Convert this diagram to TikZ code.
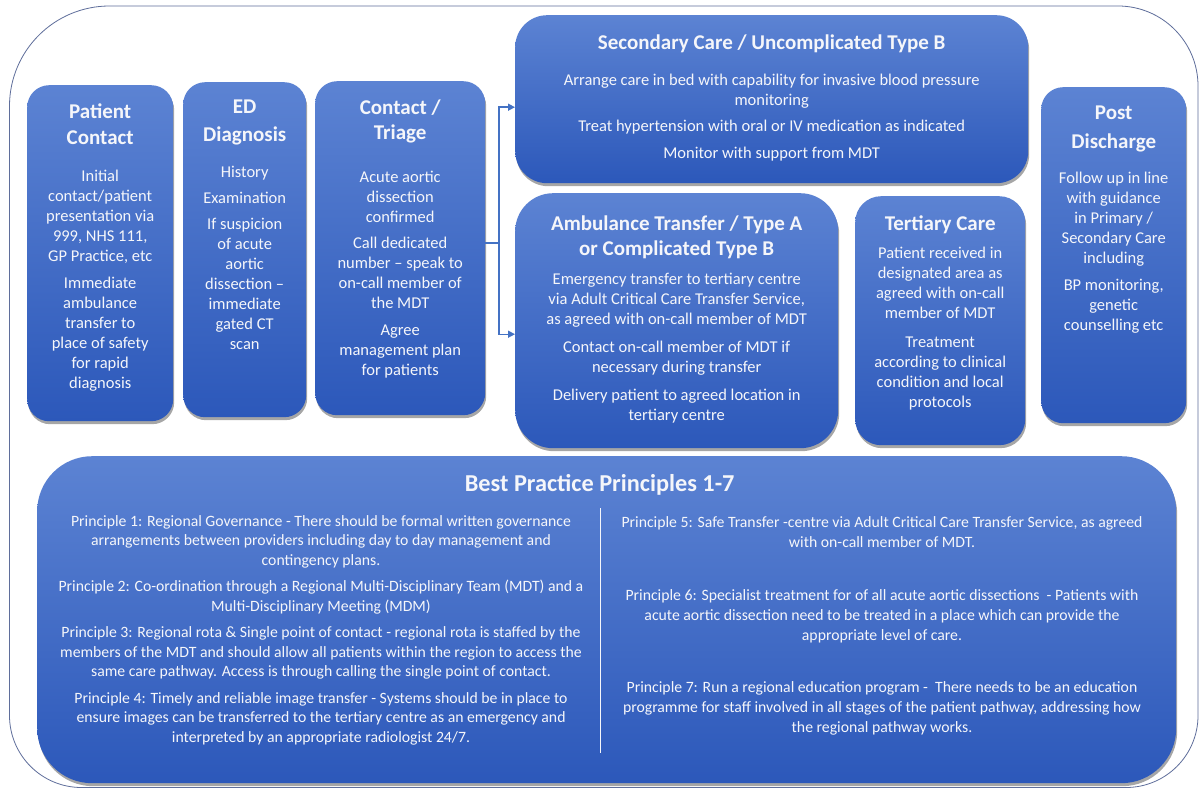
\documentclass[tikz,border=0pt]{standalone}
\usepackage{fontspec}
\setmainfont{Carlito}
\usetikzlibrary{shadows,arrows.meta}
\definecolor{boxtop}{RGB}{92,131,211}
\definecolor{boxbot}{RGB}{44,88,186}
\definecolor{framec}{RGB}{95,110,155}
\definecolor{connc}{RGB}{68,114,196}
\definecolor{txtc}{RGB}{245,246,250}
% width, height, title skip, first rule, title, extra gap, body
\newcommand{\flowtext}[7]{\parbox[c][#2pt][t]{#1pt}{\centering\fontsize{21}{#3}\bfseries\rule{0pt}{#4pt}#5\par\normalfont\fontsize{16.5}{20}\selectfont\vspace{#6pt}#7\par}}
\newcommand{\pg}[1][7]{\par\vspace{#1pt}}
\tikzset{
  flowbox/.style={rounded corners=#1, top color=boxtop, bottom color=boxbot, draw=none,
    inner sep=0pt, anchor=north west, text=txtc,
    drop shadow={shadow xshift=1pt, shadow yshift=-3pt, opacity=.35, fill=black}},
  flowbox/.default=22pt,
  ptext/.style={inner sep=0pt, anchor=base, text=txtc},
  conn/.style={draw=connc, line width=1.4pt},
  frame/.style={draw=framec, line width=0.8pt},
}
\begin{document}
\begin{tikzpicture}[x=1pt,y=1pt]
\useasboundingbox (0,0) rectangle (1204,-789);
\fill[white] (0,0) rectangle (1204,-789);
% outer frame
\draw[frame] (9.5,-106) arc[start angle=180,end angle=90,radius=100] -- (1118,-6)
  arc[start angle=90,end angle=0,radius=80] -- (1198,-715.5)
  arc[start angle=0,end angle=-90,radius=72] -- (81.5,-787.5)
  arc[start angle=270,end angle=180,radius=72] -- cycle;

\node[flowbox] (pc) at (27,-85) {\flowtext{146}{336}{26}{33}{Patient\\Contact}{17}{%
Initial\\contact/patient\\presentation via\\999, NHS 111,\\GP Practice, etc\pg
Immediate\\ambulance\\transfer to\\place of safety\\for rapid\\diagnosis}};

\node[flowbox] (ed) at (183,-82) {\flowtext{123}{335}{28}{31}{ED\\Diagnosis}{16}{%
History\pg[6]Examination\pg[6]If suspicion\\of acute\\aortic\\dissection --\\immediate\\gated CT\\scan}};

\node[flowbox] (tri) at (315,-81) {\flowtext{170}{334}{25}{33}{Contact /\\Triage}{23}{%
Acute aortic\\dissection\\confirmed\pg[6]
Call dedicated\\number -- speak to\\on-call member of\\the MDT\pg
Agree\\management plan\\for patients}};

\node[flowbox=32pt] (sec) at (515,-15) {\flowtext{513}{168}{26}{34}{Secondary Care / Uncomplicated Type B}{16}{%
Arrange care in bed with capability for invasive blood pressure\\monitoring\pg[6]
Treat hypertension with oral or IV medication as indicated\pg
Monitor with support from MDT}};

\node[flowbox=38pt] (amb) at (515,-193) {\flowtext{323}{255}{25}{37}{Ambulance Transfer / Type A\\or Complicated Type B}{9}{%
Emergency transfer to tertiary centre\\via Adult Critical Care Transfer Service,\\as agreed with on-call member of MDT\pg[8]
Contact on-call member of MDT if\\necessary during transfer\pg[8]
Delivery patient to agreed location in\\tertiary centre}};

\node[flowbox=26pt] (ter) at (855,-196) {\flowtext{170}{249}{26}{34}{Tertiary Care}{8}{%
Patient received in\\designated area as\\agreed with on-call\\member of MDT\pg[9]
Treatment\\according to clinical\\condition and local\\protocols}};

\node[flowbox] (post) at (1041,-87) {\flowtext{145}{336}{29}{32}{Post\\Discharge}{15}{%
Follow up in line\\with guidance\\in Primary /\\Secondary Care\\including\pg
BP monitoring,\\genetic\\counselling etc}};

\node[flowbox=55pt] (bp) at (37,-456) {\parbox[c][327pt][t]{1139pt}{\centering\fontsize{24.3}{28}\bfseries\rule{0pt}{35pt}Best Practice Principles 1-7\hspace*{14pt}\par}};

\node[ptext] (left) at (321,-526) {\parbox[t]{560pt}{\centering\fontsize{15.75}{19.5}\selectfont
Principle 1: Regional Governance - There should be formal written governance\\arrangements between providers including day to day management and\\contingency plans.\pg
Principle 2: Co-ordination through a Regional Multi-Disciplinary Team (MDT) and a\\Multi-Disciplinary Meeting (MDM)\pg
Principle 3: Regional rota \& Single point of contact - regional rota is staffed by the\\members of the MDT and should allow all patients within the region to access the\\same care pathway. Access is through calling the single point of contact.\pg
Principle 4: Timely and reliable image transfer - Systems should be in place to\\ensure images can be transferred to the tertiary centre as an emergency and\\interpreted by an appropriate radiologist 24/7.\par}};

\node[ptext] (right) at (882,-527) {\parbox[t]{560pt}{\centering\fontsize{15.75}{20}\selectfont
Principle 5: Safe Transfer -centre via Adult Critical Care Transfer Service, as agreed\\with on-call member of MDT.\pg[33]
Principle 6: Specialist treatment for of all acute aortic dissections\ \ - Patients with\\acute aortic dissection need to be treated in a place which can provide the\\appropriate level of care.\pg[32]
Principle 7: Run a regional education program -\ \ There needs to be an education\\programme for staff involved in all stages of the patient pathway, addressing how\\the regional pathway works.\par}};

\coordinate (dtop) at (600,-508);
\coordinate (dbot) at (600,-753);
\draw[draw=txtc, line width=1pt] (dtop) -- (dbot);

% connectors
\coordinate (j) at (499,-243);
\draw[conn] (tri.east |- j) -- (j);
\draw[conn, -{Triangle[length=7pt,width=7pt]}] (j) |- ([yshift=-8pt]sec.west);
\draw[conn, -{Triangle[length=7pt,width=7pt]}] (j) |- ([yshift=-13.5pt]amb.west);
\end{tikzpicture}
\end{document}
